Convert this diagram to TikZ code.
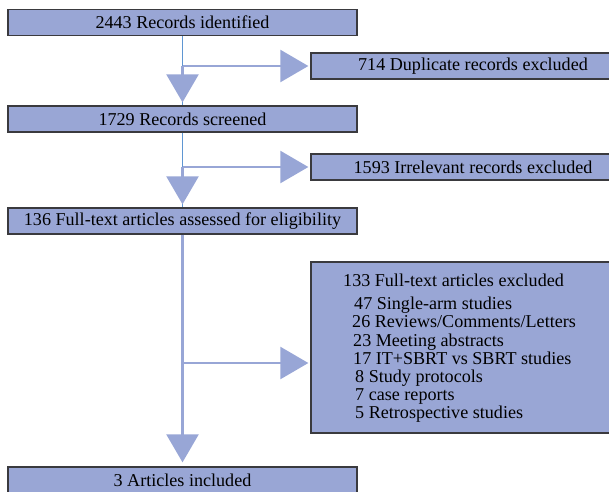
\documentclass[tikz,border=0pt]{standalone}
\usepackage{fontspec}
\setmainfont{Liberation Serif}
\usetikzlibrary{arrows.meta}
\definecolor{boxfill}{RGB}{153,166,213}
\definecolor{boxline}{RGB}{58,58,62}
\definecolor{flowline}{RGB}{152,166,214}
\definecolor{guide}{RGB}{95,150,210}
\tikzset{
  box/.style={draw=boxline, line width=1.3pt, fill=boxfill, minimum height=26pt, inner sep=0pt,
    font=\fontsize{18.1}{18.2}\selectfont},
  flow/.style={draw=flowline, line width=2.4pt, -{Triangle[length=28pt,width=32pt]}},
  guideline/.style={draw=guide, line width=0.7pt},
}

\begin{document}
\begin{tikzpicture}[x=1pt,y=-1pt]
	\useasboundingbox (0,0) rectangle (609,491);
	\node [box, minimum width=349pt] (ident) at (182.5,22.5) {2443 Records identified};
	\node [box, minimum width=324pt] (dup) at (473,66) {714 Duplicate records excluded};
	\node [box, minimum width=349pt] (screen) at (182.5,119) {1729 Records screened};
	\node [box, minimum width=324pt] (irrel) at (473,167) {1593 Irrelevant records excluded};
	\node [box, minimum width=349pt] (elig) at (182.5,221) {136 Full-text articles assessed for eligibility};
	\node [box, minimum width=324pt, minimum height=171pt] (excl) at (473,347.5) {};
	\node [anchor=north west, align=left, inner sep=0pt, font=\fontsize{18.1}{18.2}\selectfont] (excltext) at (343,274)
		{133 Full-text articles excluded\\[4.8pt]
		\hspace*{11pt}47 Single-arm studies\\
		\hspace*{9pt}26 Reviews/Comments/Letters\\
		\hspace*{10pt}23 Meeting abstracts\\
		\hspace*{10pt}17 IT+SBRT vs SBRT studies\\
		\hspace*{12pt}8 Study protocols\\
		\hspace*{12pt}7 case reports\\
		\hspace*{12pt}5 Retrospective studies};
	\node [box, minimum width=349pt] (incl) at (182.5,480) {3 Articles included};

	\coordinate (split1) at (ident.south |- dup.west);
	\coordinate (split2) at (screen.south |- irrel.west);
	\coordinate (split3) at ([yshift=-15.5pt]excl.west -| elig.south);

	\draw [guideline] (ident.south)--(screen.north);
	\draw [flow, shorten >=3pt] (split1)--(screen.north);
	\draw [flow, shorten >=2pt] (split1)--(dup.west);
	\draw [guideline] (screen.south)--(elig.north);
	\draw [flow, shorten >=3pt] (split2)--(elig.north);
	\draw [flow, shorten >=2pt] (split2)--(irrel.west);
	\draw [flow, shorten >=4pt] (elig.south)--(incl.north);
	\draw [flow, shorten >=2pt] (split3)--(excl.west |- split3);
\end{tikzpicture}
\end{document}
